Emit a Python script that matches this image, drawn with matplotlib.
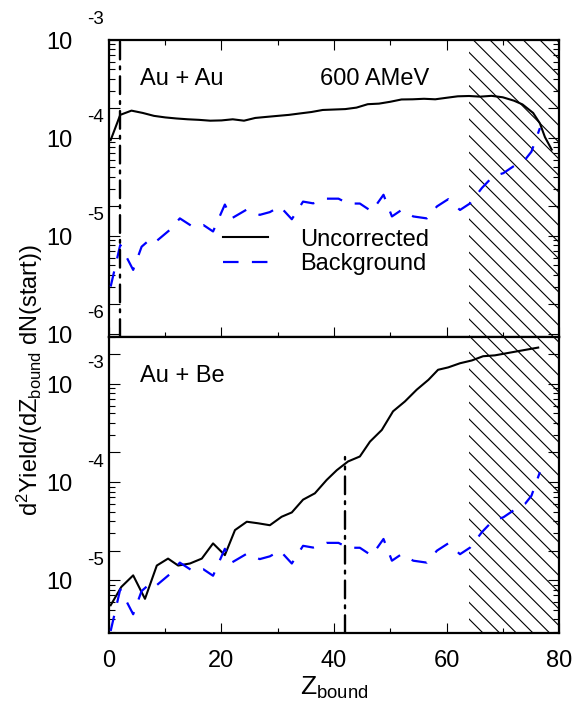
import matplotlib
matplotlib.use("Agg")
import matplotlib.pyplot as plt
import matplotlib.ticker as ticker
import matplotlib.transforms as mtransforms

plt.rcParams['font.family'] = ['Liberation Sans', 'DejaVu Sans']
plt.rcParams['mathtext.default'] = 'regular'
plt.rcParams['hatch.linewidth'] = 0.8

# Au + Au, uncorrected yield
auau_z = [0.3, 2, 4, 6, 8, 10, 12, 14, 16, 18, 20, 22, 24, 26, 28, 30, 32, 34, 36, 38,
          40, 42, 44, 46, 48, 50, 52, 54, 56, 58, 60, 62, 64, 66, 68, 70, 72, 73.5, 75.4,
          76.6, 77.5, 78.7]
auau_yield = [9.5e-5, 1.72e-4, 1.90e-4, 1.80e-4, 1.68e-4, 1.62e-4, 1.58e-4, 1.55e-4, 1.53e-4,
              1.50e-4, 1.51e-4, 1.55e-4, 1.50e-4, 1.60e-4, 1.64e-4, 1.68e-4, 1.72e-4, 1.78e-4,
              1.84e-4, 1.93e-4, 1.95e-4, 1.97e-4, 2.04e-4, 2.21e-4, 2.24e-4, 2.34e-4, 2.47e-4,
              2.48e-4, 2.51e-4, 2.48e-4, 2.57e-4, 2.66e-4, 2.68e-4, 2.64e-4, 2.69e-4, 2.60e-4,
              2.40e-4, 2.20e-4, 1.80e-4, 1.41e-4, 1.02e-4, 7.6e-5]

# Au + Be, uncorrected yield
aube_z = [0.3, 2.2, 4.3, 6.4, 8.5, 10.5, 12.3, 14.4, 16.5, 18.5, 20.6, 22.4, 24.5, 26.5, 28.6,
          30.7, 32.5, 34.5, 36.6, 38.7, 40.5, 42.5, 44.6, 46.4, 48.5, 50.5, 52.6, 54.7, 56.8,
          58.5, 60.3, 62.4, 64.5, 66.5, 68.6, 72.5, 76.3]
aube_yield = [5.56e-6, 8.55e-6, 1.12e-5, 6.46e-6, 1.41e-5, 1.66e-5, 1.41e-5, 1.48e-5, 1.66e-5,
              2.37e-5, 1.80e-5, 3.24e-5, 3.94e-5, 3.80e-5, 3.63e-5, 4.43e-5, 4.90e-5, 6.61e-5,
              7.67e-5, 1.05e-4, 1.32e-4, 1.62e-4, 1.82e-4, 2.58e-4, 3.39e-4, 5.25e-4, 6.61e-4,
              8.71e-4, 1.10e-3, 1.39e-3, 1.47e-3, 1.62e-3, 1.73e-3, 1.91e-3, 1.95e-3, 2.14e-3,
              2.34e-3]

# background (same in both panels)
bg_z = [0.3, 2, 4.3, 5.8, 7.6, 8.5, 10.8, 12.6, 15, 16.8, 18.5, 20.6, 21.8, 24.5, 26.8, 28.6,
        30.4, 32.5, 34.5, 36.3, 38.7, 40.8, 42.5, 44.6, 46.7, 48.8, 50.3, 52, 54.1, 56.5, 58.3,
        60.3, 62.4, 64.2, 66.3, 68.3, 70.1, 71.9, 74, 75.1, 76.6]
bg_yield = [3.04e-6, 8.09e-6, 4.50e-6, 7.76e-6, 9.55e-6, 8.91e-6, 1.15e-5, 1.51e-5, 1.23e-5,
            1.29e-5, 1.11e-5, 2.09e-5, 1.51e-5, 1.86e-5, 1.64e-5, 1.75e-5, 2.00e-5, 1.48e-5,
            2.24e-5, 2.15e-5, 2.40e-5, 2.40e-5, 2.14e-5, 2.14e-5, 1.78e-5, 2.63e-5, 1.58e-5,
            1.84e-5, 1.58e-5, 1.51e-5, 2.00e-5, 2.37e-5, 1.84e-5, 2.15e-5, 3.09e-5, 4.07e-5,
            4.37e-5, 5.13e-5, 6.03e-5, 7.24e-5, 1.26e-4]

# cuts and excluded region
auau_cut = 2
aube_cut = 42
aube_cut_top = 1.8e-4
excl_range = (64, 80)

xlim = (0, 80)
auau_ylim = (9.3e-7, 1.0e-3)
aube_ylim = (2.9e-6, 3.0e-3)
auau_decades = [-3, -4, -5, -6]
aube_decades = [-3, -4, -5]

fig = plt.figure(figsize=(5.76, 7.15), dpi=100)
ax1 = fig.add_axes([0.1892, 0.5287, 0.7813, 0.4154])
ax2 = fig.add_axes([0.1892, 0.1147, 0.7813, 0.4140])

dashdot = (0, (7.5, 3, 1.2, 3))


def style_axis(ax, ylim, decades, top_ticks):
    ax.set_xlim(*xlim)
    ax.set_yscale('log')
    ax.set_ylim(*ylim)
    for s in ax.spines.values():
        s.set_linewidth(1.6)
    ax.xaxis.set_major_locator(ticker.MultipleLocator(20))
    ax.xaxis.set_minor_locator(ticker.MultipleLocator(10))
    ax.yaxis.set_major_locator(ticker.LogLocator(base=10, subs=(1.0, 2.0)))
    ax.yaxis.set_minor_locator(ticker.LogLocator(base=10, subs=(3, 4, 5, 6, 7, 8, 9)))
    ax.yaxis.set_major_formatter(ticker.NullFormatter())
    ax.yaxis.set_minor_formatter(ticker.NullFormatter())
    ax.tick_params(which='both', direction='in', left=True, right=True,
                   top=top_ticks, width=0.8)
    ax.tick_params(axis='x', which='major', length=7.5, labelsize=17, pad=12)
    ax.tick_params(axis='x', which='minor', length=3.8)
    ax.tick_params(axis='y', which='major', length=8)
    ax.tick_params(axis='y', which='minor', length=4)
    base = mtransforms.blended_transform_factory(ax.transAxes, ax.transData)
    for d in decades:
        t10 = mtransforms.offset_copy(base, fig=fig, x=0, y=-3, units='dots')
        ax.text(-0.082, 10.0 ** d, '10', transform=t10, ha='right', va='center',
                fontsize=17, clip_on=False)
        texp = mtransforms.offset_copy(base, fig=fig, x=0, y=20, units='dots')
        ax.text(-0.011, 10.0 ** d, '%d' % d, transform=texp, ha='right', va='center',
                fontsize=13.5, clip_on=False)
    ax.axvspan(excl_range[0], excl_range[1], facecolor='none', edgecolor='black',
               hatch='\\\\', linewidth=0, zorder=1)


# top panel
style_axis(ax1, auau_ylim, auau_decades, True)
ax1.tick_params(axis='x', labelbottom=False)
ax1.plot(auau_z, auau_yield, color='black', lw=1.5, label='Uncorrected', zorder=3)
ax1.plot(bg_z, bg_yield, color='blue', lw=1.6, dashes=(7, 6), label='Background', zorder=3)
ax1.axvline(auau_cut, color='black', lw=1.7, linestyle=dashdot, dash_capstyle='round', zorder=4)
ax1.text(0.069, 0.848, 'Au + Au', transform=ax1.transAxes, fontsize=17, va='baseline')
ax1.text(0.469, 0.848, '600 AMeV', transform=ax1.transAxes, fontsize=17, va='baseline')
ax1.legend(loc='upper left', bbox_to_anchor=(0.254, 0.365), frameon=False, fontsize=17,
           handlelength=1.9, handletextpad=1.35, labelspacing=0.1, borderpad=0,
           borderaxespad=0)

# bottom panel
style_axis(ax2, aube_ylim, aube_decades, False)
ax2.plot(aube_z, aube_yield, color='black', lw=1.5, zorder=3)
ax2.plot(bg_z, bg_yield, color='blue', lw=1.6, dashes=(7, 6), zorder=3)
ax2.plot([aube_cut, aube_cut], [aube_ylim[0], aube_cut_top], color='black', lw=1.7,
         linestyle=dashdot, dash_capstyle='round', zorder=4)
ax2.text(0.069, 0.848, 'Au + Be', transform=ax2.transAxes, fontsize=17, va='baseline')
ax2.set_xlabel('Z$_{bound}$', fontsize=19, labelpad=2)

fig.text(30 / 576, 1 - 380 / 715, 'd$^{2}$Yield/(dZ$_{bound}$ dN(start))', rotation=90,
         ha='center', va='center', fontsize=17)

fig.savefig('out.png', dpi=100)
